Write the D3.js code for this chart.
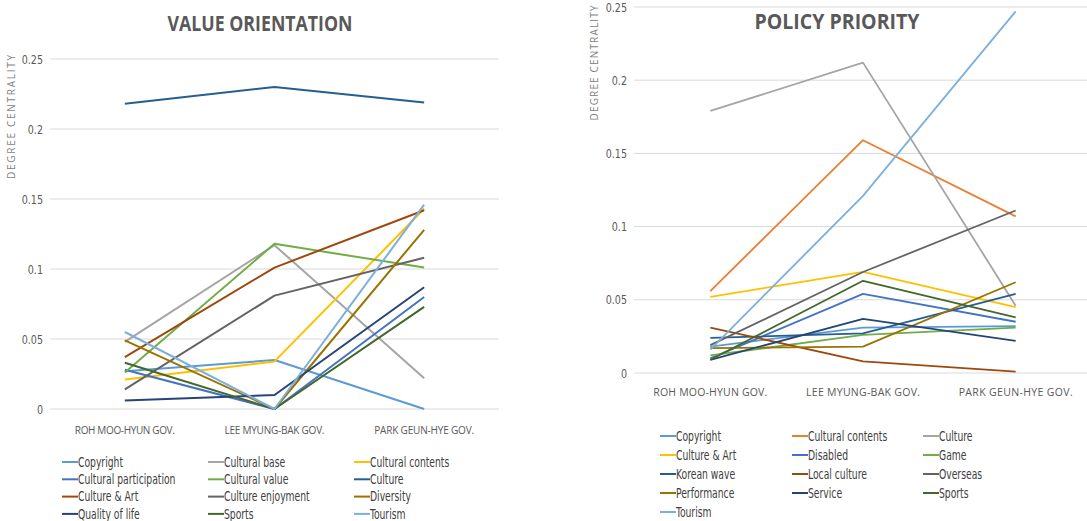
<!DOCTYPE html>
<html><head><meta charset="utf-8">
<script src="https://cdn.jsdelivr.net/npm/d3@7"></script>
<style>
body{margin:0;background:#fff;}
svg{display:block;}
text{font-family:"DejaVu Sans Condensed","Liberation Sans",sans-serif;}
</style></head>
<body><svg id="c" width="1087" height="521"></svg>
<script>
const periods = ["ROH MOO-HYUN GOV.", "LEE MYUNG-BAK GOV.", "PARK GEUN-HYE GOV."];
const yTicks = [0, 0.05, 0.1, 0.15, 0.2, 0.25];
const yTickLabels = ["0", "0.05", "0.1", "0.15", "0.2", "0.25"];

// Value orientation
const voNames = ["Copyright","Cultural base","Cultural contents","Cultural participation","Cultural value","Culture","Culture & Art","Culture enjoyment","Diversity","Quality of life","Sports","Tourism"];
const voColors = ["#5B9BD5","#A5A5A5","#FFC000","#4472C4","#70AD47","#255E91","#9E480E","#636363","#997300","#264478","#43682B","#7CAFDD"];
const voCopyright = [0.027, 0.035, 0.000];
const voCulturalBase = [0.048, 0.117, 0.022];
const voCulturalContents = [0.021, 0.034, 0.143];
const voCulturalParticipation = [0.028, 0.000, 0.080];
const voCulturalValue = [0.026, 0.118, 0.101];
const voCulture = [0.218, 0.230, 0.219];
const voCultureArt = [0.037, 0.101, 0.142];
const voCultureEnjoyment = [0.014, 0.081, 0.108];
const voDiversity = [0.049, 0.000, 0.128];
const voQualityOfLife = [0.006, 0.010, 0.087];
const voSports = [0.033, 0.000, 0.073];
const voTourism = [0.055, 0.000, 0.146];
const voValues = [voCopyright, voCulturalBase, voCulturalContents, voCulturalParticipation, voCulturalValue, voCulture, voCultureArt, voCultureEnjoyment, voDiversity, voQualityOfLife, voSports, voTourism];

// Policy priority
const ppNames = ["Copyright","Cultural contents","Culture","Culture & Art","Disabled","Game","Korean wave","Local culture","Overseas","Performance","Service","Sports","Tourism"];
const ppColors = ["#5B9BD5","#ED7D31","#A5A5A5","#FFC000","#4472C4","#70AD47","#255E91","#9E480E","#636363","#997300","#264478","#43682B","#7CAFDD"];
const ppCopyright = [0.018, 0.031, 0.032];
const ppCulturalContents = [0.056, 0.159, 0.107];
const ppCulture = [0.179, 0.212, 0.046];
const ppCultureArt = [0.052, 0.069, 0.045];
const ppDisabled = [0.010, 0.054, 0.035];
const ppGame = [0.012, 0.026, 0.031];
const ppKoreanWave = [0.024, 0.027, 0.054];
const ppLocalCulture = [0.031, 0.008, 0.001];
const ppOverseas = [0.019, 0.069, 0.111];
const ppPerformance = [0.017, 0.018, 0.062];
const ppService = [0.009, 0.037, 0.022];
const ppSports = [0.009, 0.063, 0.038];
const ppTourism = [0.016, 0.121, 0.247];
const ppValues = [ppCopyright, ppCulturalContents, ppCulture, ppCultureArt, ppDisabled, ppGame, ppKoreanWave, ppLocalCulture, ppOverseas, ppPerformance, ppService, ppSports, ppTourism];

const svg = d3.select("#c");

function chart(cfg){
  const g = svg.append("g");
  const x = d3.scalePoint().domain(periods).range([cfg.x0, cfg.x1]).padding(0.5);
  const y = d3.scaleLinear().domain([0, 0.25]).range([cfg.yb, cfg.yt]);
  // gridlines
  g.append("g").selectAll("line").data(yTicks).join("line")
    .attr("x1", cfg.x0).attr("x2", cfg.gx1).attr("y1", d=>y(d)).attr("y2", d=>y(d))
    .attr("stroke", "#d9d9d9").attr("stroke-width", 1);
  // y tick labels (narrow)
  g.append("g").selectAll("text").data(yTicks).join("text")
    .attr("transform", d=>`translate(${cfg.x0 - 7},${y(d)}) scale(0.82,1)`)
    .attr("dy", "0.35em")
    .attr("text-anchor", "end").attr("fill", "#595959").attr("font-size", 13)
    .text((d,i)=>yTickLabels[i]);
  // x labels
  g.append("g").selectAll("text").data(periods).join("text")
    .attr("x", d=>x(d)).attr("y", cfg.xly).attr("text-anchor", "middle")
    .attr("fill", "#595959").attr("font-size", cfg.xlfs)
    .style("font-family", "'Open Sans',sans-serif")
    .attr("textLength", cfg.xlLen).attr("lengthAdjust", "spacing")
    .text(d=>d);
  // y title
  g.append("text").attr("transform", `translate(${cfg.ytx},${cfg.yty}) rotate(-90)`)
    .attr("text-anchor", "middle").attr("fill", "#7f7f7f").attr("font-size", 10)
    .style("font-family", "'Open Sans',sans-serif")
    .attr("textLength", cfg.ytLen).attr("lengthAdjust", "spacing")
    .text("DEGREE CENTRALITY");
  // title
  g.append("text").attr("x", cfg.tx).attr("y", cfg.ty).attr("text-anchor", "middle")
    .attr("fill", "#595959").attr("font-size", cfg.tfs).attr("font-weight", "bold")
    .style("font-family", "'Open Sans',sans-serif")
    .attr("textLength", cfg.tLen).attr("lengthAdjust", "spacingAndGlyphs")
    .text(cfg.title);
  // lines
  const line = d3.line().x((d,i)=>x(periods[i])).y(d=>y(d));
  g.append("g").selectAll("path").data(cfg.values).join("path")
    .attr("d", d=>line(d)).attr("fill", "none")
    .attr("stroke", (d,i)=>cfg.colors[i]).attr("stroke-width", cfg.sw)
    .attr("stroke-linejoin", "round");
  // legend
  const lg = g.append("g").selectAll("g").data(cfg.names).join("g")
    .attr("transform", (d,i)=>`translate(${cfg.lx[i%3]},${cfg.ly0 + Math.floor(i/3)*cfg.ldy})`);
  lg.append("line").attr("x1", 0).attr("x2", 16).attr("y1", 0).attr("y2", 0)
    .attr("stroke", (d,i)=>cfg.colors[i]).attr("stroke-width", 2);
  lg.append("text").attr("transform", "translate(16,0) scale(0.76,1)").attr("dy", "0.35em")
    .attr("fill", "#404040").attr("font-size", 13.5).text(d=>d);
}

chart({
  x0: 50, x1: 499, gx1: 499, yb: 409, yt: 59,
  xly: 434, xlfs: 10, xlLen: 100,
  ytx: 15, yty: 117, ytLen: 124,
  tx: 260, ty: 31, tfs: 22, tLen: 185, title: "VALUE ORIENTATION",
  values: voValues, colors: voColors, names: voNames, sw: 2,
  lx: [62, 208, 354], ly0: 462, ldy: 17.3
});
chart({
  x0: 634, x1: 1092, gx1: 1087, yb: 373, yt: 7,
  xly: 396, xlfs: 10.5, xlLen: 114,
  ytx: 598, yty: 63, ytLen: 115,
  tx: 837, ty: 29, tfs: 21, tLen: 165, title: "POLICY PRIORITY",
  values: ppValues, colors: ppColors, names: ppNames, sw: 1.8,
  lx: [660, 792, 923], ly0: 436, ldy: 19
});
</script>
</body></html>
